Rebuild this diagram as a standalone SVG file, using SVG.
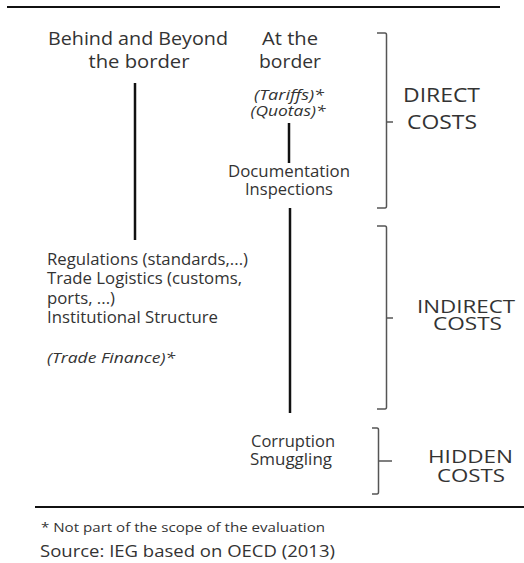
<svg xmlns="http://www.w3.org/2000/svg" width="524" height="563" viewBox="0 0 524 563">
<style>
text{font-family:"Open Sans","Liberation Sans",sans-serif;fill:#333}
.h{font-size:18.5px}
.c{font-size:20px}
.c2{font-size:18.5px}
.m{font-size:15.5px}
.i{font-style:italic;font-size:14.5px}
.ln{stroke:#111;stroke-width:2.5;fill:none}
.br{stroke:#555;stroke-width:1.5;fill:none}
</style>
<rect width="524" height="563" fill="#fff"/>
<g id="rules">
<line x1="7" y1="7" x2="500" y2="7" stroke="#111" stroke-width="2"/>
<line x1="35" y1="507" x2="524" y2="507" stroke="#111" stroke-width="2"/>
</g>
<g id="connectors">
<line class="ln" x1="135" y1="83" x2="135" y2="240"/>
<line class="ln" x1="289" y1="123" x2="289" y2="163"/>
<line class="ln" x1="290" y1="208" x2="290" y2="413"/>
</g>
<g id="behind">
<text class="h" x="138" y="45" text-anchor="middle" textLength="180" lengthAdjust="spacingAndGlyphs">Behind and Beyond</text>
<text class="h" x="139" y="68" text-anchor="middle" textLength="101" lengthAdjust="spacingAndGlyphs">the border</text>
</g>
<g id="at-border">
<text class="h" x="290" y="45" text-anchor="middle" textLength="56" lengthAdjust="spacingAndGlyphs">At the</text>
<text class="h" x="290" y="68" text-anchor="middle" textLength="62" lengthAdjust="spacingAndGlyphs">border</text>
</g>
<g id="tariffs">
<text class="i" x="289" y="100" text-anchor="middle" textLength="70" lengthAdjust="spacingAndGlyphs">(Tariffs)*</text>
<text class="i" x="288" y="116" text-anchor="middle" textLength="75" lengthAdjust="spacingAndGlyphs">(Quotas)*</text>
</g>
<g id="documentation">
<text class="m" x="289" y="177" text-anchor="middle" textLength="122" lengthAdjust="spacingAndGlyphs">Documentation</text>
<text class="m" x="289" y="195" text-anchor="middle" textLength="88" lengthAdjust="spacingAndGlyphs">Inspections</text>
</g>
<g id="regulations">
<text class="m" x="47" y="265" textLength="201" lengthAdjust="spacingAndGlyphs">Regulations (standards,...)</text>
<text class="m" x="47" y="284" textLength="195" lengthAdjust="spacingAndGlyphs">Trade Logistics (customs,</text>
<text class="m" x="47" y="304" textLength="68" lengthAdjust="spacingAndGlyphs">ports, ...)</text>
<text class="m" x="47" y="323" textLength="171" lengthAdjust="spacingAndGlyphs">Institutional Structure</text>
<text class="i" x="47" y="363" textLength="128" lengthAdjust="spacingAndGlyphs">(Trade Finance)*</text>
</g>
<g id="corruption">
<text class="m" x="293" y="447" text-anchor="middle" textLength="84" lengthAdjust="spacingAndGlyphs">Corruption</text>
<text class="m" x="291" y="465" text-anchor="middle" textLength="82" lengthAdjust="spacingAndGlyphs">Smuggling</text>
</g>
<g id="direct">
<path class="br" d="M377 33 H385 Q386.5 33 386.5 35 V206 Q386.5 208 385 208 H377 M386.5 122 H393"/>
<text class="c" x="441.5" y="102" text-anchor="middle" textLength="77" lengthAdjust="spacingAndGlyphs">DIRECT</text>
<text class="c" x="442" y="129" text-anchor="middle" textLength="70" lengthAdjust="spacingAndGlyphs">COSTS</text>
</g>
<g id="indirect">
<path class="br" d="M377 226 H385 Q386.5 226 386.5 228 V407 Q386.5 409 385 409 H377 M386.5 318 H393"/>
<text class="c2" x="466" y="313" text-anchor="middle" textLength="98" lengthAdjust="spacingAndGlyphs">INDIRECT</text>
<text class="c2" x="467.5" y="330" text-anchor="middle" textLength="69" lengthAdjust="spacingAndGlyphs">COSTS</text>
</g>
<g id="hidden">
<path class="br" d="M372 428 H377 Q378.5 428 378.5 430 V492 Q378.5 494 377 494 H372 M378.5 461 H392"/>
<text class="c2" x="470.5" y="463" text-anchor="middle" textLength="85" lengthAdjust="spacingAndGlyphs">HIDDEN</text>
<text class="c2" x="471" y="482" text-anchor="middle" textLength="68" lengthAdjust="spacingAndGlyphs">COSTS</text>
</g>
<g id="footnotes">
<text x="41" y="532" style="font-size:12px" textLength="284" lengthAdjust="spacingAndGlyphs">* Not part of the scope of the evaluation</text>
<text x="40" y="557" style="font-size:17px" textLength="295" lengthAdjust="spacingAndGlyphs">Source: IEG based on OECD (2013)</text>
</g>
</svg>
